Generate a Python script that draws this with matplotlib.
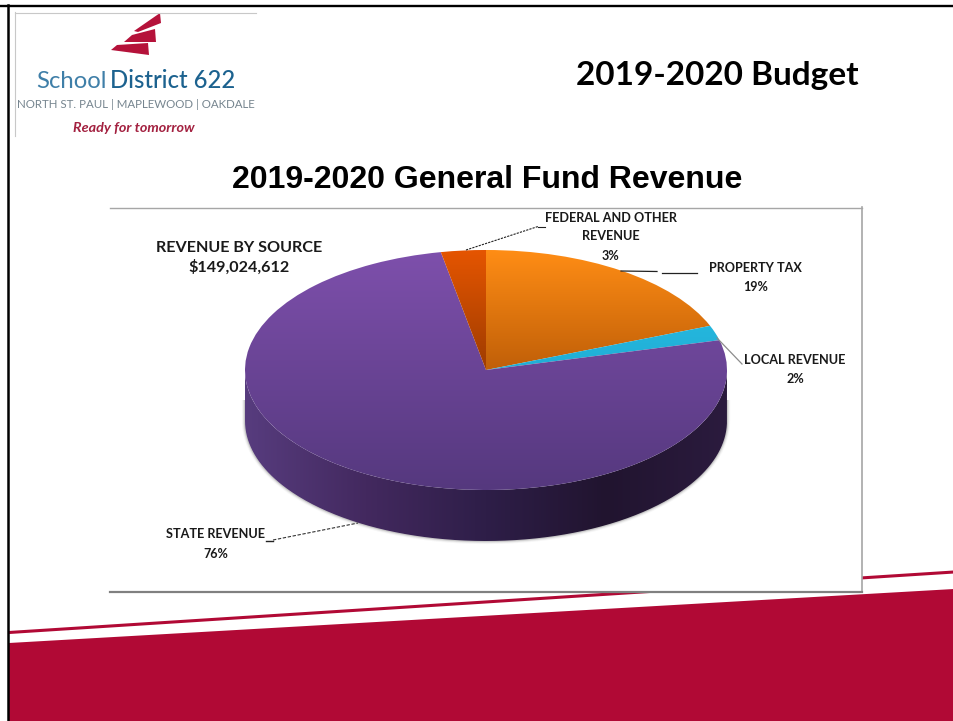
import numpy as np
import matplotlib
matplotlib.use("Agg")
import matplotlib.pyplot as plt
from matplotlib.patches import Polygon, Rectangle, PathPatch
from matplotlib.path import Path
from matplotlib.colors import LinearSegmentedColormap

W, H = 954, 721

categories = ["PROPERTY TAX", "LOCAL REVENUE", "STATE REVENUE", "FEDERAL AND OTHER\nREVENUE"]
shares = [19, 2, 76, 3]
top_colors = ["#ff8d15", "#2cc4e8", "#7e50ac", "#e55500"]
bottom_colors = ["#c05f08", "#20aed6", "#55387e", "#9e3c00"]
wall_colors = ["#573c7e", "#43295f", "#2e1e48", "#21142f", "#2b1b3e"]

main_title = "2019-2020 General Fund Revenue"
slide_title = "2019-2020 Budget"
total_label = "REVENUE BY SOURCE\n$149,024,612"

RED = "#b10935"
LIGHT = "Lato"


def pixel_axes(fig, zorder):
    ax = fig.add_axes([0, 0, 1, 1], zorder=zorder)
    ax.set_xlim(0, W)
    ax.set_ylim(H, 0)
    ax.axis("off")
    ax.patch.set_alpha(0)
    return ax


fig = plt.figure(figsize=(W / 100, H / 100), dpi=100, facecolor="white")
back = pixel_axes(fig, 0)
front = pixel_axes(fig, 2)

# slide furniture
back.add_patch(Polygon([(9, 643), (954, 589), (954, 721), (9, 721)], fc=RED, ec="none", zorder=1))
back.plot([9, 954], [632.5, 572], color=RED, lw=2.2, solid_capstyle="butt", zorder=1)
back.plot([0, 954], [5.5, 5.5], color="black", lw=1.7, zorder=1)
back.plot([8.5, 8.5], [5, 721], color="black", lw=1.8, zorder=1)

# chart area sits over the red stripe
back.add_patch(Rectangle((110, 207), 752, 385, fc="white", ec="none", zorder=3))
back.plot([110, 862], [207.5, 207.5], color="#a6a6a6", lw=1, zorder=4)
back.plot([862, 862], [207, 592], color="#a6a6a6", lw=1.2, zorder=4)
back.plot([110, 862], [592, 592], color="#808080", lw=1.6, zorder=4)

back.text(717.5, 76, slide_title, family=LIGHT, weight="bold", fontsize=24,
          ha="center", va="center", color="black")
back.text(487, 180, main_title, family="Liberation Sans", weight="bold", fontsize=23,
          ha="center", va="center", color="black", zorder=5)

# logo
back.plot([15, 256], [12.5, 12.5], color="#c8c8c8", lw=0.8)
back.plot([15.5, 15.5], [12, 136], color="#c8c8c8", lw=0.8)
shards = [
    [(160, 13), (161, 23), (138, 32), (134, 31)],
    [(155, 29), (156, 42), (124, 42), (132, 35)],
    [(148, 43), (149, 55), (111, 50), (117, 45)],
]
for s in shards:
    back.add_patch(Polygon(s, fc="#b5123a", ec="none"))
back.text(36, 88, "School", family=LIGHT, fontsize=17.2, color="#3f7fa8", va="baseline")
back.text(110, 88, "District 622", family=LIGHT, weight="medium", fontsize=17.2,
          color="#1c628f", va="baseline")
back.text(136, 105, "NORTH ST. PAUL | MAPLEWOOD | OAKDALE", family=LIGHT, fontsize=8.3,
          color="#76858f", ha="center", va="center")
back.text(134, 128, "Ready for tomorrow", family=LIGHT, style="italic", weight="bold",
          fontsize=10.4, color="#a32140", ha="center", va="center")

# pie: one unit of radius is 241 px across and 120 px down, wall 51 px deep
rx, ry, depth = 241, 120, 51
cx, cy = 486, 370
d = depth / ry
pie_ax = fig.add_axes([(cx - rx) / W, 1 - (cy + ry + depth) / H, 2 * rx / W, (2 * ry + depth) / H],
                      zorder=1)
wedges, _ = pie_ax.pie(shares, startangle=90, counterclock=False, radius=1,
                       wedgeprops={"fc": "none", "ec": "none", "lw": 0})
pie_ax.set_aspect("auto")

t = np.linspace(np.pi, 2 * np.pi, 300)
xs, ys = np.cos(t), np.sin(t)
# soft shadow round the lower rim
rim_x = np.concatenate([[-1], xs, [1]])
rim_y = np.concatenate([[-0.25], ys - d, [-0.25]])
for lw, a in [(4.5, 0.05), (3, 0.1), (1.6, 0.2)]:
    pie_ax.plot(rim_x, rim_y, color="#555555", lw=lw, alpha=a, clip_on=False, zorder=1,
                solid_capstyle="butt")

wall_cmap = LinearSegmentedColormap.from_list("wall", wall_colors)
wall_img = pie_ax.imshow(np.linspace(0, 1, 256)[None, :], cmap=wall_cmap, aspect="auto",
                         extent=[-1, 1, -1 - d, 0], zorder=2)
wall_verts = np.vstack([np.column_stack([xs, ys]), np.column_stack([xs[::-1], ys[::-1] - d])])
wall_path = PathPatch(Path(np.vstack([wall_verts, wall_verts[:1]])), fc="none", ec="none",
                      transform=pie_ax.transData)
pie_ax.add_patch(wall_path)
wall_img.set_clip_path(wall_path)

for i, (w, c0, c1) in enumerate(zip(wedges, top_colors, bottom_colors)):
    cmap = LinearSegmentedColormap.from_list("face", [c0, c1])
    # the small slices reach only the upper half, so their colour runs down to the centre
    y0 = -1 if i == 2 else 0
    img = pie_ax.imshow(np.linspace(0, 1, 256)[:, None], cmap=cmap, aspect="auto",
                        extent=[-1, 1, y0, 1], zorder=3)
    img.set_clip_path(w)
pie_ax.set_xlim(-1, 1)
pie_ax.set_ylim(-1 - d, 1)
pie_ax.axis("off")

# leader lines
front.plot([466, 538], [250, 226.5], color="#222222", lw=0.8, ls=(0, (2, 1)))
front.plot([538, 545], [226.5, 226.5], color="#222222", lw=0.8)
front.plot([621, 657], [271, 271.5], color="#222222", lw=0.9)
front.plot([662, 697], [272.5, 272.5], color="#222222", lw=0.9)
front.plot([717, 742], [338, 364], color="#8c8c8c", lw=0.9)
front.plot([273, 358], [540, 523], color="#333333", lw=0.8, ls=(0, (3, 1.5)))
front.plot([266, 273], [541, 541], color="#222222", lw=1)

# labels
label_pos = [(755.5, 277.5), (795, 369.5), (216, 544), (610.5, 236.5)]
for name, v, (x, y) in zip(categories, shares, label_pos):
    front.text(x, y, f"{name}\n{v}%", family=LIGHT, weight="bold", fontsize=9.1,
               color="#1a1a1a", ha="center", va="center", linespacing=1.7)
front.text(239, 258, total_label, family=LIGHT, weight="bold", fontsize=11.6,
           color="#1a1a1a", ha="center", va="center", linespacing=1.4)

fig.savefig("out.png", dpi=100)
